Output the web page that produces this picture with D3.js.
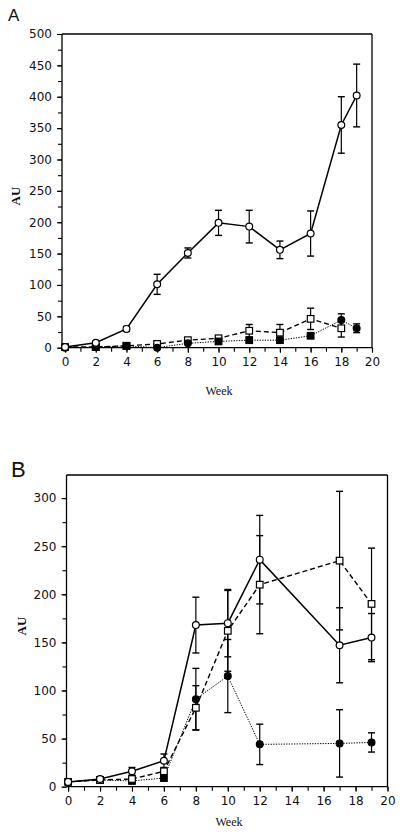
<!DOCTYPE html>
<html><head><meta charset="utf-8">
<script src="https://cdn.jsdelivr.net/npm/d3@7"></script>
<style>html,body{margin:0;padding:0;background:#fff;}svg{display:block;}</style>
</head><body>
<script>
// ---------- Panel A data ----------
const aOpenCircleWeeks = [0,2,4,6,8,10,12,14,16,18,19];
const aOpenCircleValues = [1,8,30,101,151,199,193,156,182,355,402];
const aOpenCircleErr = [0,1,4,16,8,20,26,14,36,45,50];
const aOpenSquareWeeks = [0,2,4,6,8,10,12,14,16,18];
const aOpenSquareValues = [1,1,3,6,12,15,27,24,46,31];
const aOpenSquareErr = [0,0,0,1,2,3,10,13,17,14];
const aFilledWeeks = [0,2,4,6,8,10,12,14,16,18,19];
const aFilledValues = [0,1,3,0,7,10,12,12,19,44,31];
const aFilledErr = [0,0,0,0,0,1,2,2,3,10,7];
const aFilledShapes = ["circle","square","square","circle","circle","square","square","square","square","circle","circle"];
const aYTicks = [0,50,100,150,200,250,300,350,400,450,500];

// ---------- Panel B data ----------
const bWeeks = [0,2,4,6,8,10,12,17,19];
const bOpenCircleValues = [5,8,16,27,168,170,236,147,155];
const bOpenCircleErr = [0,1,4,7,29,35,46,39,25];
const bOpenSquareValues = [5,7,8,16,82,162,210,235,190];
const bOpenSquareErr = [0,0,0,2,23,42,51,72,58];
const bFilledValues = [5,7,6,9,91,115,44,45,46];
const bFilledErr = [0,0,0,0,32,38,21,35,10];
const bFilledShapes = ["circle","square","square","square","circle","circle","circle","circle","circle"];
const bYTicks = [0,50,100,150,200,250,300];

const xTicks = [0,2,4,6,8,10,12,14,16,18,20];
const xLabel = "Week";
const yLabel = "AU";

const svg = d3.select("body").append("svg").attr("width",400).attr("height",834);

function panel(cfg){
  const g = svg.append("g");
  const x = d3.scaleLinear().domain(cfg.xDomain).range([cfg.left, cfg.right]);
  const y = d3.scaleLinear().domain(cfg.yDomain).range([cfg.bottom, cfg.top]);

  // frame top & right
  g.append("line").attr("x1",cfg.left).attr("x2",cfg.right).attr("y1",cfg.top).attr("y2",cfg.top)
    .attr("stroke","#000").attr("stroke-width",1.3);
  g.append("line").attr("x1",cfg.right).attr("x2",cfg.right).attr("y1",cfg.top).attr("y2",cfg.bottom)
    .attr("stroke","#000").attr("stroke-width",1.3);

  // y axis
  const yMinor = d3.range(cfg.yDomain[0], cfg.yDomain[1]+0.01, 25);
  const yAx = g.append("g").attr("transform",`translate(${cfg.left},0)`)
    .call(d3.axisLeft(y).tickValues(yMinor).tickSize(4).tickFormat(""));
  yAx.select(".domain").remove();
  const yAxM = g.append("g").attr("transform",`translate(${cfg.left},0)`)
    .call(d3.axisLeft(y).tickValues(cfg.yTicks).tickSize(5).tickPadding(5).tickFormat(d3.format("d")));
  yAxM.select(".domain").remove();
  g.append("line").attr("x1",cfg.left).attr("x2",cfg.left).attr("y1",cfg.top).attr("y2",cfg.bottom)
    .attr("stroke","#000").attr("stroke-width",1.3);

  // x axis
  const xMinor = d3.range(0, 20.01, 1);
  const xAx = g.append("g").attr("transform",`translate(0,${cfg.bottom})`)
    .call(d3.axisBottom(x).tickValues(xMinor).tickSize(4).tickFormat(""));
  xAx.select(".domain").remove();
  const xAxM = g.append("g").attr("transform",`translate(0,${cfg.bottom})`)
    .call(d3.axisBottom(x).tickValues(xTicks).tickSize(5).tickPadding(5).tickFormat(d3.format("d")));
  xAxM.select(".domain").remove();
  g.append("line").attr("x1",cfg.left).attr("x2",cfg.right).attr("y1",cfg.bottom).attr("y2",cfg.bottom)
    .attr("stroke","#000").attr("stroke-width",1.3);

  g.selectAll(".tick line").attr("stroke","#000").attr("stroke-width",1.1);
  g.selectAll(".tick text").attr("font-family","DejaVu Sans, sans-serif").attr("font-size",12).attr("fill","#111");

  // labels
  g.append("text").attr("x",cfg.panelX).attr("y",cfg.panelY).text(cfg.panel)
    .attr("font-family","Liberation Sans, Arial, sans-serif").attr("font-size",cfg.panelSize).attr("fill","#111");
  g.append("text").attr("x",(cfg.left+cfg.right)/2+2).attr("y",cfg.xLabelY).text(xLabel)
    .attr("text-anchor","middle").attr("font-family","Liberation Serif, Times New Roman, serif").attr("font-size",12).attr("fill","#111");
  g.append("text").attr("transform",`translate(${cfg.yLabelX},${cfg.yLabelY}) rotate(-90)`).text(yLabel)
    .attr("text-anchor","middle").attr("font-family","Liberation Serif, Times New Roman, serif")
    .attr("font-weight","bold").attr("font-size",13).attr("fill","#111");

  const series = cfg.series;
  // lines
  series.forEach(s=>{
    const pts = s.weeks.map((w,i)=>[x(w), y(s.values[i])]);
    g.append("path").attr("d", d3.line()(pts)).attr("fill","none").attr("stroke","#000")
      .attr("stroke-width", s.width).attr("stroke-dasharray", s.dash);
  });
  // error bars
  series.forEach(s=>{
    s.weeks.forEach((w,i)=>{
      const e = s.err[i]; if(!e || e < 3) return;
      const cx = x(w), y1 = y(s.values[i]+e), y2 = y(Math.max(0,s.values[i]-e));
      g.append("line").attr("x1",cx).attr("x2",cx).attr("y1",y1).attr("y2",y2).attr("stroke","#000").attr("stroke-width",1.2);
      [y1,y2].forEach(yy=>g.append("line").attr("x1",cx-3.5).attr("x2",cx+3.5).attr("y1",yy).attr("y2",yy)
        .attr("stroke","#000").attr("stroke-width",1.4));
    });
  });
  // markers
  series.forEach(s=>{
    s.weeks.forEach((w,i)=>{
      const shape = s.shapes ? s.shapes[i] : s.shape;
      const cx = x(w), cy = y(s.values[i]);
      const fill = s.filled ? "#000" : "#fff";
      if(shape==="circle"){
        g.append("circle").attr("cx",cx).attr("cy",cy).attr("r",3.4).attr("fill",fill).attr("stroke","#000").attr("stroke-width",1.2);
      } else {
        g.append("rect").attr("x",cx-3.3).attr("y",cy-3.3).attr("width",6.6).attr("height",6.6)
          .attr("fill",fill).attr("stroke","#000").attr("stroke-width",1.2);
      }
    });
  });
}

panel({
  panel:"A", panelX:8, panelY:21, panelSize:17,
  xDomain:[-0.2,20], yDomain:[0,500], left:62, right:372, top:34, bottom:347.7,
  yTicks:aYTicks, xLabelY:395, yLabelX:20, yLabelY:196,
  series:[
    {weeks:aOpenSquareWeeks, values:aOpenSquareValues, err:aOpenSquareErr, shape:"square", filled:false, width:1.4, dash:"5,3"},
    {weeks:aFilledWeeks, values:aFilledValues, err:aFilledErr, shapes:aFilledShapes, filled:true, width:1, dash:"1.3,1.3"},
    {weeks:aOpenCircleWeeks, values:aOpenCircleValues, err:aOpenCircleErr, shape:"circle", filled:false, width:1.5, dash:null}
  ]
});

panel({
  panel:"B", panelX:11, panelY:477, panelSize:22,
  xDomain:[-0.1,20], yDomain:[0,324], left:66.5, right:387.5, top:475, bottom:786.7,
  yTicks:bYTicks, xLabelY:826, yLabelX:26, yLabelY:626,
  series:[
    {weeks:bWeeks, values:bFilledValues, err:bFilledErr, shapes:bFilledShapes, filled:true, width:1, dash:"1.3,1.3"},
    {weeks:bWeeks, values:bOpenSquareValues, err:bOpenSquareErr, shape:"square", filled:false, width:1.4, dash:"5,3"},
    {weeks:bWeeks, values:bOpenCircleValues, err:bOpenCircleErr, shape:"circle", filled:false, width:1.5, dash:null}
  ]
});
</script>
</body></html>
